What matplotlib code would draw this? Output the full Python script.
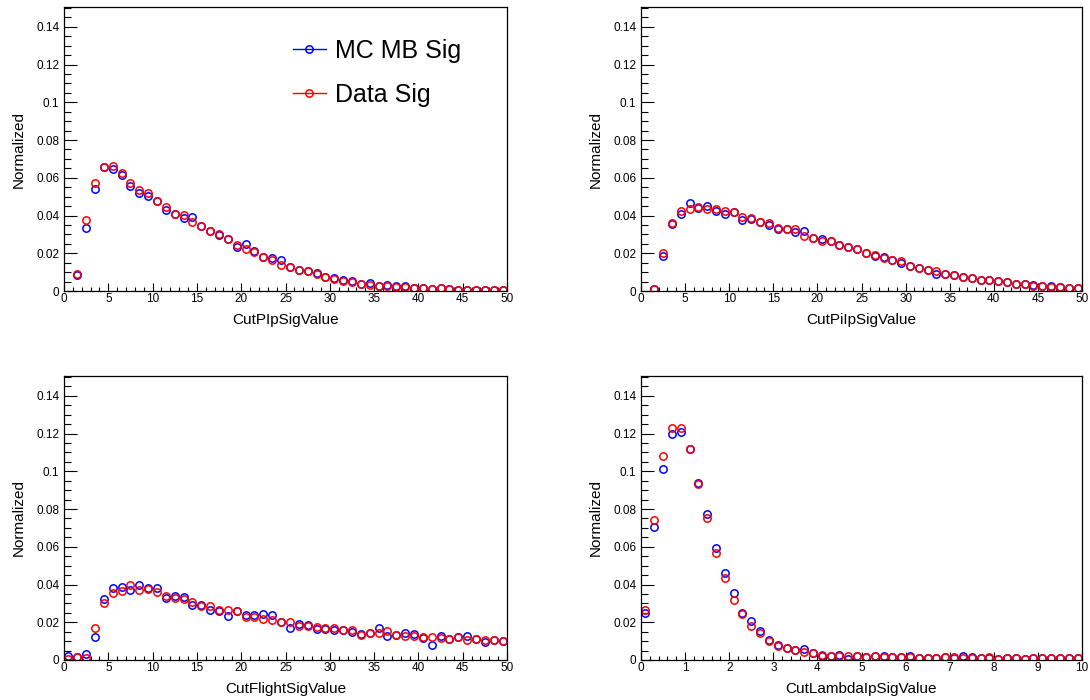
import matplotlib
matplotlib.use("Agg")
import matplotlib.pyplot as plt
import numpy as np
from matplotlib.ticker import MultipleLocator
from matplotlib.lines import Line2D

plt.rcParams['font.family'] = ['Liberation Sans', 'DejaVu Sans']

# Normalized histograms, values read bin by bin from the reference
# CutPIpSigValue, bins of width 1 on [0, 50], first filled bin centred at 1.5
pip_mc = [0.0083, 0.0335, 0.0540, 0.0658, 0.0646, 0.0614, 0.0559, 0.0517, 0.0503, 0.0476,
          0.0428, 0.0410, 0.0388, 0.0393, 0.0343, 0.0319, 0.0296, 0.0273, 0.0234, 0.0248,
          0.0212, 0.0180, 0.0177, 0.0163, 0.0127, 0.0113, 0.0104, 0.0096, 0.0076, 0.0069,
          0.0057, 0.0051, 0.0039, 0.0042, 0.0028, 0.0034, 0.0027, 0.0025, 0.0016, 0.0014,
          0.0012, 0.0018, 0.0011, 0.0007, 0.0007, 0.0005, 0.0005, 0.0005, 0.0004]
pip_data = [0.0088, 0.0375, 0.0573, 0.0658, 0.0665, 0.0627, 0.0570, 0.0535, 0.0517, 0.0476,
            0.0446, 0.0410, 0.0402, 0.0366, 0.0343, 0.0319, 0.0300, 0.0273, 0.0246, 0.0220,
            0.0207, 0.0180, 0.0166, 0.0136, 0.0127, 0.0113, 0.0104, 0.0088, 0.0076, 0.0064,
            0.0053, 0.0048, 0.0039, 0.0034, 0.0028, 0.0025, 0.0021, 0.0021, 0.0016, 0.0014,
            0.0012, 0.0014, 0.0011, 0.0007, 0.0007, 0.0005, 0.0005, 0.0005, 0.0004]

# CutPiIpSigValue, bins of width 1, first filled bin centred at 1.5
piip_mc = [0.0010, 0.0186, 0.0357, 0.0410, 0.0467, 0.0442, 0.0451, 0.0425, 0.0410, 0.0419,
           0.0375, 0.0379, 0.0366, 0.0352, 0.0326, 0.0331, 0.0313, 0.0319, 0.0283, 0.0274,
           0.0264, 0.0242, 0.0234, 0.0220, 0.0204, 0.0184, 0.0180, 0.0163, 0.0150, 0.0133,
           0.0124, 0.0113, 0.0092, 0.0092, 0.0083, 0.0076, 0.0067, 0.0060, 0.0057, 0.0051,
           0.0046, 0.0037, 0.0037, 0.0034, 0.0025, 0.0028, 0.0021, 0.0018, 0.0018]
piip_data = [0.0010, 0.0204, 0.0361, 0.0425, 0.0437, 0.0446, 0.0437, 0.0437, 0.0423, 0.0416,
             0.0393, 0.0389, 0.0366, 0.0363, 0.0334, 0.0326, 0.0326, 0.0294, 0.0283, 0.0267,
             0.0264, 0.0242, 0.0234, 0.0220, 0.0204, 0.0193, 0.0175, 0.0163, 0.0158, 0.0133,
             0.0124, 0.0113, 0.0104, 0.0092, 0.0083, 0.0076, 0.0067, 0.0060, 0.0057, 0.0051,
             0.0046, 0.0037, 0.0037, 0.0028, 0.0025, 0.0023, 0.0021, 0.0018, 0.0018]

# CutFlightSigValue, bins of width 1, first bin centred at 0.5
flight_mc = [0.0023, 0.0014, 0.0032, 0.0120, 0.0322, 0.0382, 0.0386, 0.0372, 0.0395, 0.0382,
             0.0382, 0.0327, 0.0340, 0.0336, 0.0292, 0.0292, 0.0265, 0.0258, 0.0235, 0.0258,
             0.0241, 0.0239, 0.0244, 0.0239, 0.0200, 0.0170, 0.0191, 0.0188, 0.0165, 0.0165,
             0.0159, 0.0159, 0.0147, 0.0138, 0.0145, 0.0168, 0.0129, 0.0134, 0.0145, 0.0138,
             0.0117, 0.0081, 0.0129, 0.0111, 0.0120, 0.0126, 0.0110, 0.0094, 0.0106, 0.0099]
flight_data = [0.0005, 0.0014, 0.0011, 0.0168, 0.0303, 0.0354, 0.0365, 0.0398, 0.0373, 0.0377,
               0.0359, 0.0338, 0.0327, 0.0322, 0.0310, 0.0288, 0.0288, 0.0267, 0.0265, 0.0258,
               0.0230, 0.0230, 0.0218, 0.0212, 0.0200, 0.0200, 0.0182, 0.0182, 0.0173, 0.0168,
               0.0168, 0.0159, 0.0159, 0.0134, 0.0145, 0.0143, 0.0152, 0.0134, 0.0129, 0.0129,
               0.0124, 0.0120, 0.0117, 0.0111, 0.0120, 0.0106, 0.0110, 0.0106, 0.0106, 0.0099]

# CutLambdaIpSigValue, bins of width 0.2 on [0, 10]
lam_mc = [0.0248, 0.0704, 0.1014, 0.1195, 0.1209, 0.1117, 0.0940, 0.0775, 0.0593, 0.0462,
          0.0356, 0.0250, 0.0209, 0.0152, 0.0108, 0.0080, 0.0062, 0.0055, 0.0058, 0.0039,
          0.0023, 0.0023, 0.0028, 0.0005, 0.0023, 0.0018, 0.0019, 0.0021, 0.0016, 0.0016,
          0.0019, 0.0011, 0.0012, 0.0012, 0.0014, 0.0009, 0.0019, 0.0016, 0.0009, 0.0011,
          0.0005, 0.0011, 0.0011, 0.0007, 0.0012, 0.0009, 0.0012, 0.0011, 0.0011, 0.0011]
lam_data = [0.0265, 0.0743, 0.1083, 0.1227, 0.1230, 0.1117, 0.0935, 0.0752, 0.0566, 0.0435,
            0.0320, 0.0244, 0.0179, 0.0142, 0.0103, 0.0076, 0.0062, 0.0055, 0.0044, 0.0039,
            0.0028, 0.0023, 0.0021, 0.0019, 0.0023, 0.0018, 0.0019, 0.0016, 0.0016, 0.0016,
            0.0016, 0.0011, 0.0012, 0.0012, 0.0014, 0.0014, 0.0011, 0.0011, 0.0009, 0.0014,
            0.0007, 0.0011, 0.0011, 0.0007, 0.0012, 0.0009, 0.0009, 0.0011, 0.0011, 0.0011]

panels = [
    ("CutPIpSigValue", 50, 50, pip_mc, pip_data, 5, 1),
    ("CutPiIpSigValue", 50, 50, piip_mc, piip_data, 5, 1),
    ("CutFlightSigValue", 50, 50, flight_mc, flight_data, 5, 1),
    ("CutLambdaIpSigValue", 10, 50, lam_mc, lam_data, 1, 0.2),
]

fig = plt.figure(figsize=(10.9, 7.0), dpi=100)
rects = [
    [64 / 1090, 1 - 291 / 700, 443 / 1090, 284 / 700],
    [641 / 1090, 1 - 291 / 700, 441 / 1090, 284 / 700],
    [64 / 1090, 1 - 660 / 700, 443 / 1090, 284 / 700],
    [641 / 1090, 1 - 660 / 700, 441 / 1090, 284 / 700],
]

for rect, (name, xmax, nbins, mc, data, major, minor) in zip(rects, panels):
    ax = fig.add_axes(rect)
    edges = np.linspace(0, xmax, nbins + 1)
    centers = 0.5 * (edges[:-1] + edges[1:])
    xc = centers[nbins - len(mc):]
    ax.plot(xc, mc, linestyle='none', marker='o', markersize=5.3, mfc='none',
            mec='#0000ff', mew=1.1)
    ax.plot(xc, data, linestyle='none', marker='o', markersize=5.3, mfc='none',
            mec='#ff0000', mew=1.1)

    ax.set_xlim(0, xmax)
    ax.set_ylim(0, 0.1505)
    ax.xaxis.set_major_locator(MultipleLocator(major))
    ax.xaxis.set_minor_locator(MultipleLocator(minor))
    ax.yaxis.set_major_locator(MultipleLocator(0.02))
    ax.yaxis.set_minor_locator(MultipleLocator(0.005))
    ax.set_yticks(np.arange(0, 0.141, 0.02))
    ax.set_yticklabels(["0", "0.02", "0.04", "0.06", "0.08", "0.1", "0.12", "0.14"])
    ax.set_xticklabels([f"{v:g}" for v in ax.get_xticks()])

    ax.tick_params(axis='y', which='major', direction='in', length=9.4, width=0.8,
                   labelsize=8.5, pad=3.5)
    ax.tick_params(axis='y', which='minor', direction='in', length=4.7, width=0.8)
    ax.tick_params(axis='x', which='major', direction='in', length=6.1, width=0.8,
                   labelsize=8.5, pad=1.5)
    ax.tick_params(axis='x', which='minor', direction='in', length=3.1, width=0.8)
    for sp in ax.spines.values():
        sp.set_linewidth(0.9)

    ax.set_xlabel(name, fontsize=11)
    ax.set_ylabel("Normalized", fontsize=11)
    ax.xaxis.set_label_coords(0.5, -0.078)
    ax.yaxis.set_label_coords(-0.087, 0.5)

    if name == "CutPIpSigValue":
        handles = [
            Line2D([], [], color='#0000ff', lw=1.0, marker='o', markersize=5.3,
                   mfc='none', mew=1.1),
            Line2D([], [], color='#ff0000', lw=1.0, marker='o', markersize=5.3,
                   mfc='none', mew=1.1),
        ]
        ax.legend(handles, ["MC MB Sig", "Data Sig"], loc='upper left',
                  bbox_to_anchor=(0.517, 0.887), frameon=False, fontsize=18,
                  handlelength=1.3, handletextpad=0.36, labelspacing=0.79,
                  borderpad=0, borderaxespad=0)

fig.savefig("out.png", dpi=100)
